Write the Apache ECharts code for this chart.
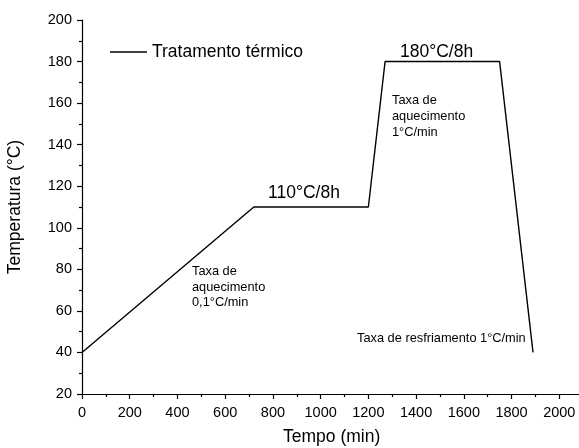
<!DOCTYPE html>
<html>
<head>
<meta charset="utf-8">
<script src="https://cdn.jsdelivr.net/npm/echarts@6/dist/echarts.min.js"></script>
<style>
  html, body { margin: 0; padding: 0; background: #fff; }
  #chart { width: 579px; height: 448px; }
</style>
</head>
<body>
<div id="chart"></div>
<script>
// perfil do tratamento térmico (tempo em min, temperatura em °C)
const tempo = [0, 720, 1200, 1270, 1750, 1890];
const temperatura = [40, 110, 110, 180, 180, 40];
const yTicks = { min: 20, max: 200, step: 20 };
const xTicks = { min: 0, max: 2200, step: 200 };

const font = 'Liberation Sans, Arial, sans-serif';
const chart = echarts.init(document.getElementById('chart'));

const option = {
  animation: false,
  backgroundColor: '#fff',
  // o eixo x passa da borda direita, como no original
  grid: { left: 82, top: 20, width: 525, bottom: 54, containLabel: false, outerBoundsMode: 'none' },
  legend: {
    data: ['Tratamento térmico'],
    left: 110, top: 43,
    padding: 0,
    icon: 'rect',
    itemWidth: 37, itemHeight: 1.3,
    textStyle: { fontFamily: font, fontSize: 17.5, color: '#000', lineHeight: 18 }
  },
  xAxis: {
    type: 'value',
    min: xTicks.min, max: xTicks.max, interval: xTicks.step,
    axisLine: { lineStyle: { color: '#000', width: 1.2 } },
    axisTick: { length: 5, lineStyle: { color: '#000', width: 1.2 } },
    minorTick: { show: true, splitNumber: 2, length: 3, lineStyle: { color: '#000', width: 1.2 } },
    splitLine: { show: false },
    axisLabel: {
      color: '#000', fontFamily: font, fontSize: 14.5, margin: 11,
      formatter: v => String(v)
    }
  },
  yAxis: {
    type: 'value',
    min: yTicks.min, max: yTicks.max, interval: yTicks.step,
    name: 'Temperatura (°C)',
    nameLocation: 'middle',
    nameGap: 58,
    nameTextStyle: { color: '#000', fontFamily: font, fontSize: 17.5 },
    axisLine: { show: true, lineStyle: { color: '#000', width: 1.2 } },
    axisTick: { show: true, length: 5, lineStyle: { color: '#000', width: 1.2 } },
    minorTick: { show: true, splitNumber: 2, length: 3, lineStyle: { color: '#000', width: 1.2 } },
    splitLine: { show: false },
    axisLabel: { color: '#000', fontFamily: font, fontSize: 14.5, margin: 10 }
  },
  series: [{
    name: 'Tratamento térmico',
    type: 'line',
    data: tempo.map((t, i) => [t, temperatura[i]]),
    showSymbol: false,
    lineStyle: { color: '#000', width: 1.4 },
    itemStyle: { color: '#000' }
  }],
  graphic: [
    { type: 'text', left: 283, top: 428,
      style: { text: 'Tempo (min)', fill: '#000', font: '17.5px ' + font } },
    { type: 'text', left: 268, top: 184,
      style: { text: '110°C/8h', fill: '#000', font: '17.5px ' + font } },
    { type: 'text', left: 400, top: 43,
      style: { text: '180°C/8h', fill: '#000', font: '17.5px ' + font } },
    { type: 'text', left: 392, top: 92,
      style: { text: 'Taxa de\naquecimento\n1°C/min', fill: '#000', font: '12.8px ' + font, lineHeight: 16 } },
    { type: 'text', left: 192, top: 264,
      style: { text: 'Taxa de\naquecimento\n0,1°C/min', fill: '#000', font: '12.8px ' + font, lineHeight: 15.5 } },
    { type: 'text', left: 357, top: 332,
      style: { text: 'Taxa de resfriamento 1°C/min', fill: '#000', font: '12.8px ' + font } }
  ]
};

chart.setOption(option);
</script>
</body>
</html>
